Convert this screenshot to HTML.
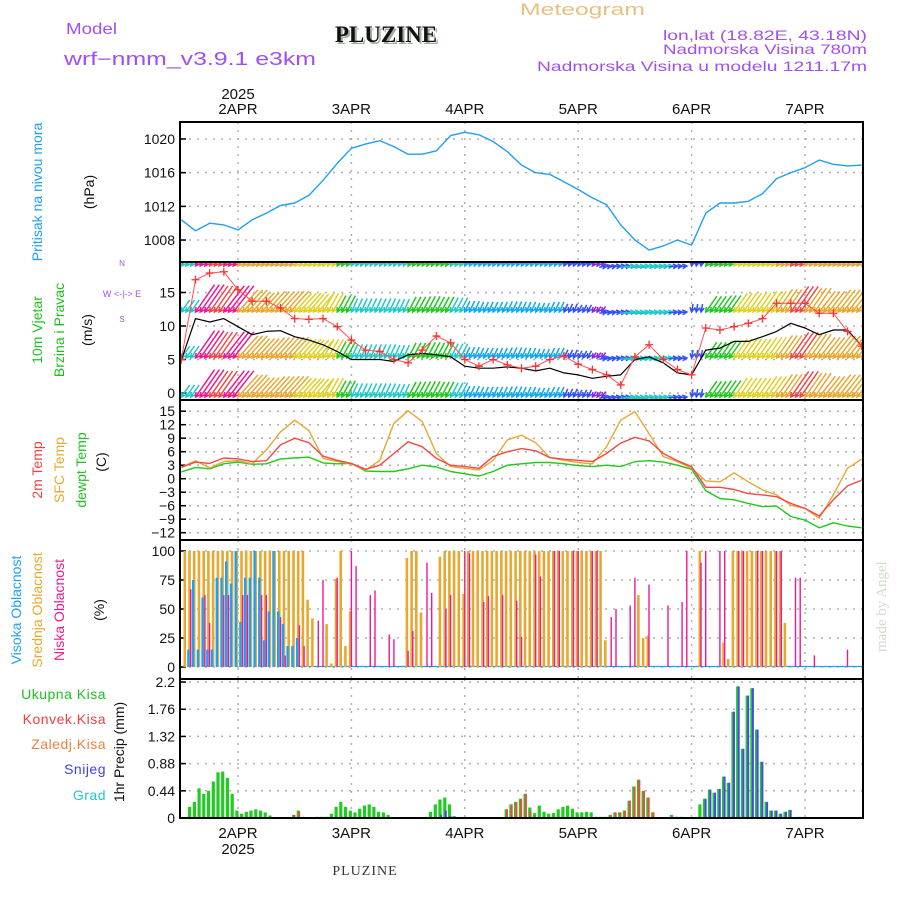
<!DOCTYPE html>
<html><head><meta charset="utf-8"><title>Meteogram PLUZINE</title>
<style>
html,body{margin:0;padding:0;background:#fff;}
svg{display:block;font-family:"Liberation Sans",sans-serif;}
</style></head>
<body>
<svg id="chart" width="900" height="900" viewBox="0 0 900 900" xmlns="http://www.w3.org/2000/svg">
<defs>
<clipPath id="cw"><rect x="181" y="263" width="681" height="136"/></clipPath>
<clipPath id="cp"><rect x="181" y="123" width="681" height="138"/></clipPath>
</defs>
<g id="texts" font-size="13">
<text x="66" y="34" fill="#a050f0" font-size="16" textLength="51" lengthAdjust="spacingAndGlyphs">Model</text>
<text x="64" y="65" fill="#a050f0" font-size="18" textLength="252" lengthAdjust="spacingAndGlyphs">wrf−nmm_v3.9.1 e3km</text>
<text x="388" y="44" text-anchor="middle" fill="#a0b0a0" font-family="Liberation Serif,serif" font-weight="bold" font-size="23">PLUZINE</text>
<text x="386" y="42" text-anchor="middle" fill="#111" font-family="Liberation Serif,serif" font-weight="bold" font-size="23">PLUZINE</text>
<text x="520" y="15" fill="#e8c080" font-size="17" textLength="125" lengthAdjust="spacingAndGlyphs">Meteogram</text>
<text x="663" y="40" fill="#a050f0" font-size="14" textLength="204" lengthAdjust="spacingAndGlyphs">lon,lat (18.82E, 43.18N)</text>
<text x="663" y="54" fill="#a050f0" font-size="14" textLength="204" lengthAdjust="spacingAndGlyphs">Nadmorska Visina 780m</text>
<text x="537" y="71" fill="#a050f0" font-size="14" textLength="330" lengthAdjust="spacingAndGlyphs">Nadmorska Visina u modelu 1211.17m</text>
<text x="238" y="99" text-anchor="middle" fill="#111" font-size="15">2025</text>
<text x="238" y="854" text-anchor="middle" fill="#111" font-size="15">2025</text>
<text x="365" y="875" text-anchor="middle" fill="#333" font-family="Liberation Serif,serif" font-size="14" letter-spacing="1">PLUZINE</text>
<text transform="translate(886,652) rotate(-90)" fill="#d0dcd0" font-family="Liberation Serif,serif" font-size="15">made by Angel</text>
<text transform="translate(42,192) rotate(-90)" text-anchor="middle" fill="#20a0f0" font-size="14">Pritisak na nivou mora</text>
<text transform="translate(94,192) rotate(-90)" text-anchor="middle" fill="#111" font-size="14">(hPa)</text>
<text transform="translate(42,330) rotate(-90)" text-anchor="middle" fill="#20c020" font-size="14">10m Vjetar</text>
<text transform="translate(64,330) rotate(-90)" text-anchor="middle" fill="#20c020" font-size="14">Brzina i Pravac</text>
<text transform="translate(92,330) rotate(-90)" text-anchor="middle" fill="#111" font-size="14">(m/s)</text>
<text x="122" y="266" text-anchor="middle" fill="#a050f0" font-size="8">N</text>
<text x="122" y="297" text-anchor="middle" fill="#a050f0" font-size="9">W  &lt;-|-&gt;  E</text>
<text x="122" y="322" text-anchor="middle" fill="#a050f0" font-size="8">S</text>
<text transform="translate(42,470) rotate(-90)" text-anchor="middle" fill="#f04040" font-size="14">2m Temp</text>
<text transform="translate(64,470) rotate(-90)" text-anchor="middle" fill="#e8a830" font-size="14">SFC Temp</text>
<text transform="translate(86,470) rotate(-90)" text-anchor="middle" fill="#20c020" font-size="14">dewpt Temp</text>
<text transform="translate(106,462) rotate(-90)" text-anchor="middle" fill="#111" font-size="14">(C)</text>
<text transform="translate(21,610) rotate(-90)" text-anchor="middle" fill="#20a0f0" font-size="14">Visoka Oblacnost</text>
<text transform="translate(42,610) rotate(-90)" text-anchor="middle" fill="#e8a830" font-size="14">Srednja Oblacnost</text>
<text transform="translate(64,610) rotate(-90)" text-anchor="middle" fill="#f01890" font-size="14">Niska Oblacnost</text>
<text transform="translate(104,610) rotate(-90)" text-anchor="middle" fill="#111" font-size="14">(%)</text>
<text x="106" y="699" text-anchor="end" fill="#20c020" font-size="14" letter-spacing="0.5">Ukupna Kisa</text>
<text x="106" y="724" text-anchor="end" fill="#f04040" font-size="14" letter-spacing="0.5">Konvek.Kisa</text>
<text x="106" y="749" text-anchor="end" fill="#f08040" font-size="14" letter-spacing="0.5">Zaledj.Kisa</text>
<text x="106" y="774" text-anchor="end" fill="#4040f0" font-size="14" letter-spacing="0.5">Snijeg</text>
<text x="106" y="800" text-anchor="end" fill="#20c8c8" font-size="14" letter-spacing="0.5">Grad</text>
<text transform="translate(124,752) rotate(-90)" text-anchor="middle" fill="#111" font-size="14">1hr Precip (mm)</text>
</g>
<g id="plot"></g>
</svg>
<script>
// ---- data (hour index 0 = 1APR 12Z) ----
const dayLabels = ["2APR","3APR","4APR","5APR","6APR","7APR"];
const dayHours = [12,36,60,84,108,132];
const pressTicks = [1008,1012,1016,1020];
const windTicks = [0,5,10,15];
const tempTicks = [-12,-9,-6,-3,0,3,6,9,12,15];
const cloudTicks = [0,25,50,75,100];
const precipTicks = [0,0.44,0.88,1.32,1.76,2.2];
// 3-hourly series
const pressure = [1010.4,1009.1,1010.0,1009.8,1009.2,1010.4,1011.2,1012.1,1012.4,1013.3,1015.1,1017.1,1018.9,1019.4,1019.8,1019.1,1018.2,1018.2,1018.6,1020.4,1020.8,1020.5,1019.7,1018.5,1016.9,1016.0,1015.8,1014.9,1014.0,1013.0,1012.2,1009.8,1008.0,1006.8,1007.3,1008.0,1007.4,1011.2,1012.4,1012.4,1012.6,1013.5,1015.3,1016.0,1016.6,1017.5,1017.0,1016.8,1016.9];
const windSpeed = [4.9,11.1,10.6,11.1,9.9,8.7,9.2,9.3,8.4,7.9,7.2,6.2,5.0,5.0,5.0,4.7,5.7,5.9,5.7,5.4,4.0,3.7,3.7,3.9,3.7,3.3,3.7,3.0,2.7,2.2,2.5,2.7,5.0,5.4,4.5,3.0,2.7,6.4,6.7,7.7,7.7,8.4,9.2,10.4,9.7,8.7,9.4,9.4,7.0];
const windGust = [5.0,16.9,17.9,18.1,15.4,13.7,13.7,12.7,11.1,11.0,11.1,9.9,7.9,6.4,6.2,5.0,4.5,6.4,8.5,7.5,5.0,4.0,5.0,4.2,3.7,4.0,5.0,5.5,4.3,3.5,2.7,1.2,5.4,7.2,5.0,3.5,2.7,9.7,9.4,9.9,10.4,11.1,13.4,13.4,13.4,11.9,11.9,9.2,7.0];
const windDir = [35,35,35,38,42,42,42,42,42,40,30,28,25,25,25,25,28,28,28,28,25,25,25,25,25,25,25,25,28,35,260,265,265,265,265,265,10,35,35,35,35,35,35,35,35,38,38,38,38];
const tempSfc = [2.5,4.0,2.4,3.8,4.0,3.3,6.4,10.4,13.0,10.7,4.5,3.8,3.3,1.9,4.1,12.3,15.1,12.7,5.6,2.7,2.3,1.9,4.1,8.6,9.7,8.0,4.7,4.1,3.6,3.3,7.1,13.0,14.9,10.0,4.9,3.8,2.3,-0.5,-0.7,1.3,-0.7,-2.5,-3.6,-5.9,-6.6,-8.8,-3.6,2.3,4.4];
const temp2m = [2.5,3.7,3.4,4.6,4.4,3.8,4.0,7.5,9.0,8.0,5.0,4.1,3.4,2.1,3.0,5.6,8.2,7.1,4.5,3.0,2.7,2.3,4.9,6.0,6.7,6.2,4.7,4.3,4.1,3.8,5.6,7.9,9.2,8.4,5.6,4.0,2.7,-1.9,-1.9,-2.4,-3.3,-3.6,-4.0,-5.5,-6.6,-8.3,-4.7,-1.6,-0.3];
const tempDew = [1.5,2.5,2.2,3.3,3.7,3.2,3.3,4.4,4.6,4.8,3.5,3.3,3.4,1.7,1.6,1.6,2.2,3.0,2.6,1.6,1.1,0.6,1.6,3.0,3.3,3.6,3.6,3.3,2.9,2.7,3.0,2.7,3.8,4.0,3.7,3.0,2.1,-2.7,-4.4,-4.7,-5.5,-6.2,-6.1,-8.4,-9.2,-10.9,-9.8,-10.5,-10.9];
// hourly series
const cloudHigh = [0,15,75,15,60,15,15,77,77,91,72,100,39,77,77,100,77,23,48,100,48,37,18,18,25,0,0,0,0,0,0,0,0,0,0,0,0,0,0,0,0,0,0,0,0,0,0,0,0,0,0,0,0,0,0,0,0,0,0,0,0,0,0,0,0,0,0,0,0,0,0,0,0,0,0,0,0,0,0,0,0,0,0,0,0,0,0,0,0,0,0,0,0,0,0,0,0,0,0,0,0,0,0,0,0,0,0,0,0,0,0,0,0,0,0,0,0,0,0,0,0,0,0,0,0,0,0,0,0,0,0,0,0,0,0,0,0,0,0,0,0,0,0,0,0];
const cloudMid = [100,100,100,100,100,100,100,100,100,100,100,100,100,100,100,100,100,100,100,100,100,100,100,100,100,100,58,42,0,0,37,3,76,100,18,48,0,0,0,0,0,0,0,0,0,0,0,94,100,100,47,0,0,0,95,100,100,100,100,63,100,100,100,100,100,100,100,100,100,100,100,100,100,100,100,100,100,100,100,100,100,100,100,100,100,100,100,100,100,23,0,0,0,0,0,0,62,25,27,0,0,0,0,0,0,0,0,0,0,100,0,0,0,0,21,7,100,100,100,100,100,100,100,100,100,100,100,38,0,0,0,0,0,0,0,0,0,0,0,0,0,0,0,0,0];
const cloudLow = [0,67,0,0,62,38,0,0,62,62,0,0,62,62,0,0,62,62,0,0,43,10,0,0,36,18,0,0,40,75,0,0,77,0,0,100,87,0,0,62,66,0,0,28,24,0,0,14,31,0,0,90,64,0,0,50,62,0,0,100,98,0,0,56,61,0,0,62,0,0,57,26,0,0,97,78,0,0,100,100,0,0,100,100,0,0,100,100,0,0,43,50,0,0,53,77,0,0,71,0,0,0,53,0,0,56,100,0,0,90,100,0,0,100,100,0,0,100,100,0,0,100,100,0,0,100,100,0,0,77,77,0,0,10,0,0,0,0,0,0,15,0,0,0,0];
const precipTotal = [0,.18,.26,.48,.39,.44,.59,.74,.75,.65,.39,.12,.07,.10,.12,.14,.12,.09,.04,0,0,0,0,.05,.12,.02,.01,.01,.02,.02,.02,.07,.18,.26,.18,.12,.09,.15,.20,.22,.18,.10,.09,.05,0,0,0,0,0,0,0,0,.10,.22,.30,.33,.22,.03,0,0,0,0,0,0,0,0,0,0,.14,.22,.26,.31,.39,.17,.08,.20,.10,.07,.08,.14,.18,.20,.15,.09,.09,.10,.09,.02,.02,.02,.05,.09,.09,.12,.28,.51,.62,.44,.33,.09,0,0,0,.05,.02,.02,0,0,0,.22,.31,.46,.41,.47,.67,.57,1.72,2.13,1.12,1.98,2.10,1.43,.91,.26,.12,.12,.07,.10,.13,0,.02,0,0,0,0,0,0,0,0,0,0,0,0,0,0];
const precipConv = [0,0,0,0,0,0,0,0,0,0,0,0,0,0,0,0,0,0,0,0,0,0,0,.05,.10,0,0,0,0,0,0,0,0,0,0,0,0,0,0,0,0,0,0,0,0,0,0,0,0,0,0,0,0,0,0,0,0,0,0,0,0,0,0,0,0,0,0,0,.14,.22,.26,.31,.39,.10,0,0,0,0,0,0,0,0,0,0,0,0,0,0,0,0,.05,.09,.09,.12,.28,.51,.62,.44,.33,.09,0,0,0,0,0,0,0,0,0,0,0,0,0,0,0,0,0,0,0,0,0,0,0,0,0,0,0,0,0,0,0,0,0,0,0,0,0,0,0,0,0,0,0,0,0];
const precipSnow = [0,0,0,0,0,0,0,0,0,0,0,0,0,0,0,0,0,0,0,0,0,0,0,0,0,0,0,0,0,0,0,0,0,0,0,0,0,0,0,0,0,0,0,0,0,0,0,0,0,0,0,0,0,0,.05,.12,.03,0,0,0,0,0,0,0,0,0,0,0,0,0,0,0,0,0,0,0,0,0,0,0,0,0,0,0,0,0,0,0,0,0,0,0,0,0,0,0,0,0,0,0,0,0,0,0,0,0,0,0,0,0,.31,.46,.41,.47,.67,.57,1.72,2.13,1.12,1.98,2.10,1.43,.91,.26,.12,.12,.07,.10,.13,0,0,0,0,0,0,0,0,0,0,0,0,0,0,0,0];

// ---- axes ----
const X0 = 181.3, PXH = 4.725;
function xH(h){ return X0 + h*PXH; }
function yP(v){ return 139 + (1020 - v)*8.42; }
function yW(v){ return 393 - v*6.7; }
function yT(v){ return 478.7 - v*4.5; }
function yC(v){ return 667 - v*1.16; }
function yR(v){ return 818 - v*61.8; }

const NS = "http://www.w3.org/2000/svg";
const plot = document.getElementById('plot');
function mk(tag, attrs, parent){
  const e = document.createElementNS(NS, tag);
  for (const k in attrs) e.setAttribute(k, attrs[k]);
  (parent || plot).appendChild(e);
  return e;
}
const panels = [
  {name:'pressure', top:122, bot:262, ticks:pressTicks, f:yP, fmt:v=>String(v)},
  {name:'wind', top:262, bot:400, ticks:windTicks, f:yW, fmt:v=>String(v)},
  {name:'temp', top:400, bot:540, ticks:tempTicks, f:yT, fmt:v=>(v<0?'−'+(-v):String(v))},
  {name:'cloud', top:540, bot:679, ticks:cloudTicks, f:yC, fmt:v=>String(v)},
  {name:'precip', top:679, bot:818, ticks:precipTicks, f:yR, fmt:v=>(v===0?'0':String(v))}
];
panels.forEach(p => {
  const g = mk('g', {});
  
  
  p.ticks.forEach(t => {
    const y = p.f(t);
    if (y > p.top + 2 && y < p.bot - 2) {
      const l = mk('line', {x1:181, x2:862, y1:y, y2:y, stroke:'#b0b0b0', 'stroke-width':1.5, 'stroke-dasharray':'2,6'}, g);
      
      
    }
    const tk = mk('line', {x1:180, x2:186, y1:y, y2:y, stroke:'#000', 'stroke-width':1.5}, g);
    
    
    const tx = mk('text', {x:175, y:y+5, 'text-anchor':'end', 'font-size':14, fill:'#111'}, g);
    tx.textContent = p.fmt(t);
    
    
  });
  dayHours.forEach(h => {
    const vl = mk('line', {x1:xH(h), x2:xH(h), y1:p.top, y2:p.bot, stroke:'#b0b0b0', 'stroke-width':1.5, 'stroke-dasharray':'2,6'}, g);
    
    
  });
});
dayLabels.forEach((d, i) => {
  const x = xH(dayHours[i]);
  const t1 = mk('text', {x:x, y:114, 'text-anchor':'middle', 'font-size':15, fill:'#111'});
  t1.textContent = d;
  
  
  const t2 = mk('text', {x:x, y:838, 'text-anchor':'middle', 'font-size':15, fill:'#111'});
  t2.textContent = d;
  
  
});

function poly(vals, step, fy, color, w, name, parent){
  const pts = vals.map((v,i)=> xH(i*step).toFixed(1)+','+fy(v).toFixed(1)).join(' ');
  const pl = mk('polyline', {points:pts, fill:'none', stroke:color, 'stroke-width':w, 'stroke-linejoin':'round'}, parent);
  
  
  return pl;
}
const gp = mk('g', {'clip-path':'url(#cp)'});
poly(pressure, 3, yP, '#20a0f0', 1.4, 'pressure-line', gp);

const gw = mk('g', {'clip-path':'url(#cw)'});


function windColor(s){
  if (s < 2.5) return '#8a2be2';
  if (s < 3.2) return '#3050ff';
  if (s < 4.5) return '#10a8f0';
  if (s < 5.5) return '#20c8c8';
  if (s < 7) return '#20c820';
  if (s < 8.5) return '#e0d020';
  if (s < 10) return '#e8a830';
  if (s < 11) return '#f04848';
  return '#f01890';
}
const rowBases = [266, 312, 358, 397];
for (let h = 0; h <= 144; h++) {
  const k = Math.min(48, Math.floor(h/3));
  const s = windSpeed[k], d = windDir[k]*Math.PI/180;
  const L = 3*s;
  const col = windColor(s);
  const dx = Math.sin(d), dy = -Math.cos(d);
  rowBases.forEach(b => {
    const hx = xH(h), hy = b;
    const ex = hx + L*dx, ey = hy + L*dy;
    const ang = Math.atan2(dy, dx);
    const a1 = ang + 0.5, a2 = ang - 0.5;
    const path = `M${ex.toFixed(1)},${ey.toFixed(1)}L${hx.toFixed(1)},${hy}M${(hx+5*Math.cos(a1)).toFixed(1)},${(hy+5*Math.sin(a1)).toFixed(1)}L${hx.toFixed(1)},${hy}L${(hx+5*Math.cos(a2)).toFixed(1)},${(hy+5*Math.sin(a2)).toFixed(1)}`;
    const p = mk('path', {d:path, stroke:col, 'stroke-width':1.5, fill:'none'}, gw);
    
    
  });
}
poly(windSpeed, 3, yW, '#000', 1.2, 'wind-speed-line', gw);
poly(windGust, 3, yW, '#ff5050', 1, 'wind-gust-line', gw);
windGust.forEach((v, i) => {
  const x = xH(i*3), y = yW(v);
  const m = mk('path', {d:`M${x-4},${y}h8M${x},${y-4}v8`, stroke:'#ff3030', 'stroke-width':1.3}, gw);
  
  
});

poly(tempDew, 3, yT, '#20c820', 1.4, 'dewpoint-line');
poly(tempSfc, 3, yT, '#e8a830', 1.4, 'sfc-temp-line');
poly(temp2m, 3, yT, '#f04848', 1.4, 'temp-2m-line');

const blueBase = mk('line', {x1:xH(25), x2:862, y1:666.5, y2:666.5, stroke:'#20a0f0', 'stroke-width':1.2});


function bars(vals, fy, color, off, w, name){
  vals.forEach((v, i) => {
    if (v <= 0) return;
    const y = fy(v), y0 = fy(0);
    const r = mk('rect', {x:(xH(i)+off).toFixed(1), y:y.toFixed(1), width:w, height:Math.max(0.8, y0-y).toFixed(1), fill:color});
    
    
  });
}
bars(cloudMid, yC, '#e8a830', 2.2, 2.6, 'mid-cloud-bar');
bars(cloudHigh, yC, '#20a0f0', 1.2, 2.4, 'high-cloud-bar');
bars(cloudLow, yC, '#f01890', 4.0, 1.4, 'low-cloud-bar');

bars(precipTotal, yR, '#20cc20', 2.0, 3.2, 'precip-total-bar');
bars(precipConv, yR, '#f04848', 3.4, 2.0, 'precip-convective-bar');
bars(precipSnow, yR, '#4848f0', 3.6, 2.0, 'precip-snow-bar');

panels.forEach(p => {
  const r = mk('rect', {x:180, y:p.top, width:683, height:p.bot-p.top, fill:'none', stroke:'#000', 'stroke-width':2});
  
  
});
</script>
</body></html>
